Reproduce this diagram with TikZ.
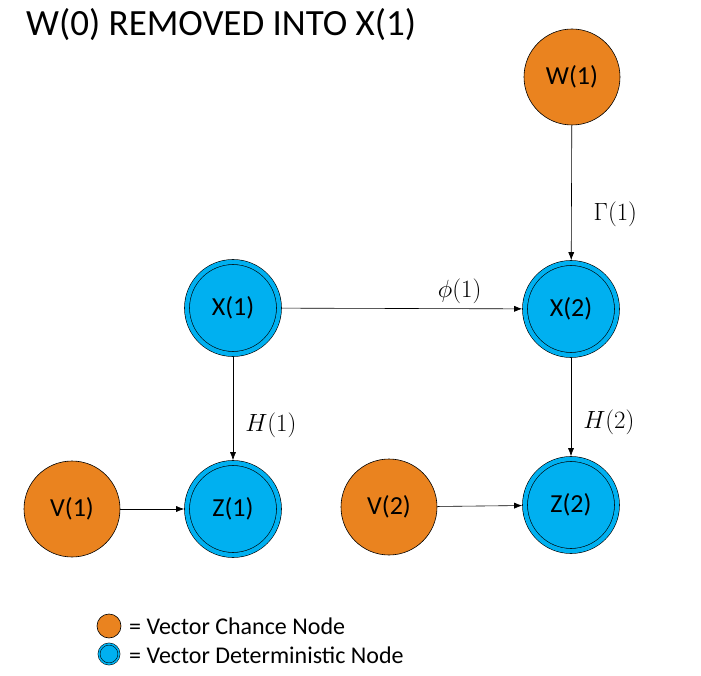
\documentclass[tikz,border=0pt]{standalone}
\usepackage{fontspec}
\setmainfont{Carlito}
\usetikzlibrary{arrows.meta}

\definecolor{chanceorange}{RGB}{234,131,31}
\definecolor{detblue}{RGB}{0,176,240}

\begin{document}
\begin{tikzpicture}[x=1pt,y=-1pt]
  \tikzstyle{ChanceStyle}=[circle,draw=black,line width=0.6pt,fill=chanceorange,
    minimum size=96pt,inner sep=0pt,font=\fontsize{26}{30}\selectfont]
  \tikzstyle{DetStyle}=[circle,draw=black,line width=0.6pt,double=detblue,
    double distance=4.4pt,fill=detblue,minimum size=92pt,inner sep=0pt,
    outer sep=2.8pt,font=\fontsize{26}{30}\selectfont]
  \tikzstyle{EdgeStyle}=[line width=0.6pt,-{Latex[length=8pt,width=6pt]}]
  \tikzstyle{LabelStyle}=[font=\fontsize{23}{27}\selectfont,inner sep=0pt]
  \useasboundingbox (0,0) rectangle (701,676);
  % title
  \node[anchor=west,font=\fontsize{37}{42}\selectfont,inner sep=0pt] (title) at (26,25) {W(0) REMOVED INTO X(1)};
  % chance nodes
  \node[ChanceStyle] (W1) at (572,77) {W(1)};
  \node[ChanceStyle] (V1) at (72,509) {V(1)};
  \node[ChanceStyle] (V2) at (389,507) {V(2)};
  % deterministic nodes
  \node[DetStyle] (X1) at (233,308) {X(1)};
  \node[DetStyle] (X2) at (571,309) {X(2)};
  \node[DetStyle] (Z1) at (233,509) {Z(1)};
  \node[DetStyle] (Z2) at (571,505) {Z(2)};
  % edges
  \draw[EdgeStyle] (W1) -- node[LabelStyle,pos=0.66,right=22pt] (G1) {$\Gamma(1)$} (X2);
  \draw[EdgeStyle] (X1) -- node[LabelStyle,pos=0.74,above=5pt] (P1) {$\phi(1)$} (X2);
  \draw[EdgeStyle] (X1) -- node[LabelStyle,pos=0.66,right=12pt] (H1) {$H(1)$} (Z1);
  \draw[EdgeStyle] (X2) -- node[LabelStyle,pos=0.66,right=12pt] (H2) {$H(2)$} (Z2);
  \draw[EdgeStyle] (V1) -- (Z1);
  \draw[EdgeStyle] (V2) -- (Z2);
  % legend
  \node[circle,draw=black,line width=0.6pt,fill=chanceorange,minimum size=24pt,inner sep=0pt] (LC) at (109,626) {};
  \node[circle,draw=black,line width=0.5pt,double=detblue,double distance=1.6pt,fill=detblue,minimum size=20pt,inner sep=0pt] (LD) at (109,654) {};
  \node[anchor=west,font=\fontsize{24}{28}\selectfont,inner sep=0pt] (LCtext) at (129,626) {= Vector Chance Node};
  \node[anchor=west,font=\fontsize{24}{28}\selectfont,inner sep=0pt] (LDtext) at (129,655) {= Vector Deterministic Node};
\end{tikzpicture}
\end{document}
